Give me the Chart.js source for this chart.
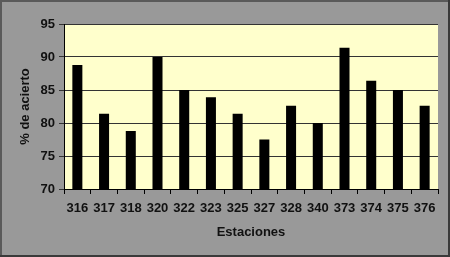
<!DOCTYPE html>
<html>
<head>
<meta charset="utf-8">
<script src="https://cdn.jsdelivr.net/npm/chart.js@4"></script>
<style>
  html, body { margin: 0; padding: 0; background: #999999; }
  #wrap { width: 450px; height: 257px; }
</style>
</head>
<body>
<div id="wrap"><canvas id="grafico" width="450" height="257"></canvas></div>
<script>
// datos
const estaciones = ['316', '317', '318', '320', '322', '323', '325', '327', '328', '340', '373', '374', '375', '376'];
const acierto = [88.8, 81.4, 78.8, 90.0, 85.0, 83.9, 81.4, 77.5, 82.6, 80.0, 91.4, 86.4, 85.0, 82.6];
const ticksY = [70, 75, 80, 85, 90, 95];

// fondo gris, area amarilla y borde
const fondo = {
  id: 'fondo',
  beforeDraw(chart) {
    const { ctx, chartArea: a, width, height } = chart;
    ctx.save();
    ctx.fillStyle = '#999999';
    ctx.fillRect(0, 0, width, height);
    ctx.fillStyle = '#ffffcc';
    ctx.fillRect(a.left, a.top, a.right - a.left, a.bottom - a.top);
    ctx.lineWidth = 2;
    ctx.strokeStyle = '#5a5a5a';
    ctx.beginPath();
    ctx.moveTo(1, height); ctx.lineTo(1, 1); ctx.lineTo(width, 1);
    ctx.stroke();
    ctx.strokeStyle = '#3a3a3a';
    ctx.beginPath();
    ctx.moveTo(width - 1, 0); ctx.lineTo(width - 1, height - 1); ctx.lineTo(0, height - 1);
    ctx.stroke();
    ctx.restore();
  }
};

const fuenteTicks = { family: 'Liberation Sans', size: 13, weight: 'bold' };
const fuenteTitulo = { family: 'Liberation Sans', size: 13, weight: 'bold' };

new Chart(document.getElementById('grafico'), {
  type: 'bar',
  data: {
    labels: estaciones,
    datasets: [{
      data: acierto,
      backgroundColor: '#000000',
      barPercentage: 0.75,
      categoryPercentage: 0.5
    }]
  },
  options: {
    responsive: false,
    animation: false,
    layout: { padding: { top: 24, right: 12, left: 18, bottom: 17 } },
    plugins: { legend: { display: false }, tooltip: { enabled: false } },
    scales: {
      x: {
        grid: { offset: true, drawOnChartArea: false, tickLength: 5, color: '#000' },
        border: { color: '#000' },
        ticks: { color: '#111', font: fuenteTicks, padding: 7, maxRotation: 0 },
        title: { display: true, text: 'Estaciones', color: '#111', font: fuenteTitulo, padding: { top: 0, bottom: 0 } },
        afterFit(s) { s.height = 51; }
      },
      y: {
        min: 70,
        max: 95,
        afterBuildTicks(s) { s.ticks = ticksY.map(v => ({ value: v })); },
        grid: { color: '#333333', tickLength: 5 },
        border: { color: '#000' },
        ticks: { color: '#111', font: fuenteTicks, padding: 4 },
        title: { display: true, text: '% de acierto', color: '#111', font: fuenteTitulo, padding: { top: 0, bottom: 0 } },
        afterFit(s) { s.width = 46; }
      }
    }
  },
  plugins: [fondo]
});
</script>
</body>
</html>
